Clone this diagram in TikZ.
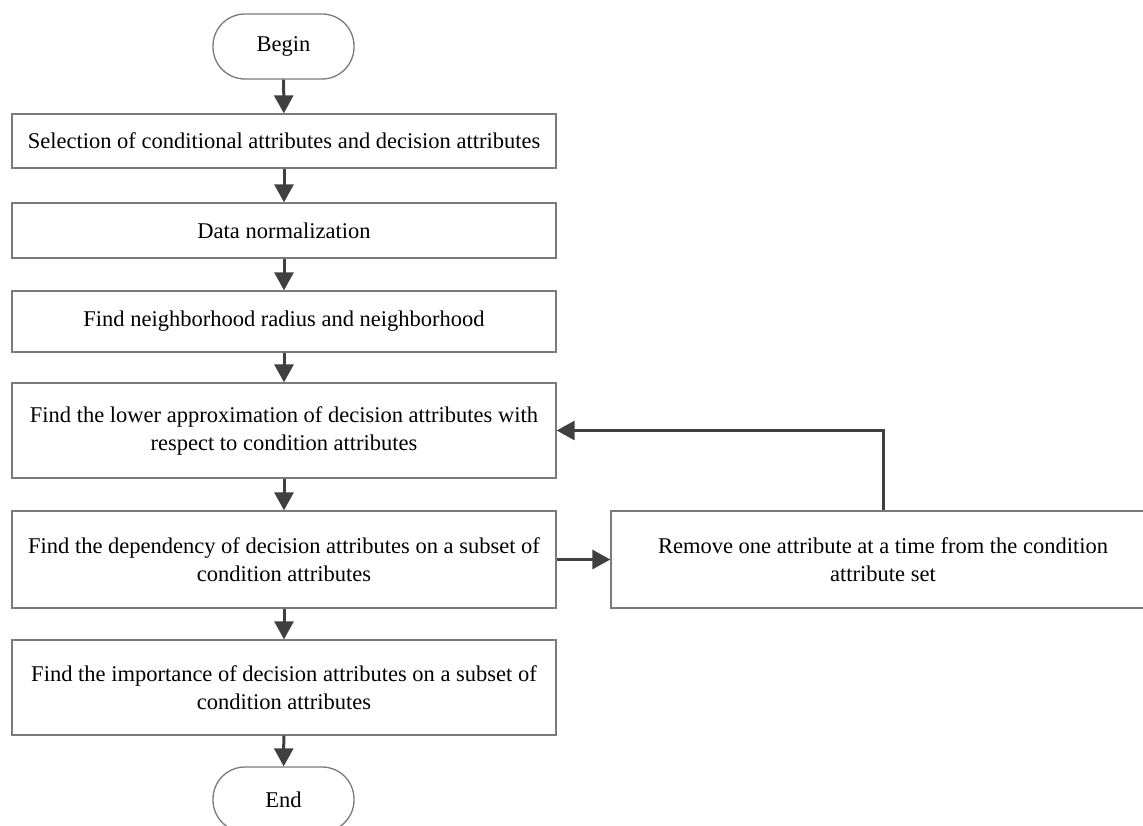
\documentclass[tikz,border=0pt]{standalone}
\usepackage{fontspec}
\setmainfont{Liberation Serif}
\usetikzlibrary{arrows.meta}
\definecolor{arrowc}{HTML}{404040}
\definecolor{boxc}{HTML}{7A7A7A}
\tikzset{
  procbox/.style={draw=boxc, line width=1.3pt, rectangle, minimum width=544pt, align=center, inner sep=0pt, font=\fontsize{22.5}{28}\selectfont},
  termbox/.style={draw=boxc, line width=1.3pt, rectangle, rounded corners=32pt, minimum width=141pt, minimum height=65pt, inner sep=0pt, font=\fontsize{22.5}{28}\selectfont},
  flow/.style={draw=arrowc, line width=3pt, -{Triangle[length=18pt,width=19pt]}}
}
\begin{document}
\begin{tikzpicture}[x=1pt,y=-1pt]
\useasboundingbox (0,0) rectangle (1143,826);
\fill[white] (0,0) rectangle (1143,826);
\node[termbox] (begin) at (283.5,46.5) {Begin};
\node[procbox, minimum height=54pt] (b1) at (284,141) {Selection of conditional attributes and decision attributes};
\node[procbox, minimum height=55pt] (b2) at (284,230.5) {Data normalization};
\node[procbox, minimum height=61pt] (b3) at (284,321.5) {Find neighborhood radius and neighborhood};
\node[procbox, minimum height=95pt] (b4) at (284,430.5) {Find the lower approximation of decision attributes with\\respect to condition attributes};
\node[procbox, minimum height=97pt] (b5) at (284,559.5) {Find the dependency of decision attributes on a subset of\\condition attributes};
\node[procbox, minimum height=95pt] (b6) at (284,687.5) {Find the importance of decision attributes on a subset of\\condition attributes};
\node[termbox] (end) at (283.5,799.5) {End};
\node[procbox, minimum height=97pt] (r) at (883,559.5) {Remove one attribute at a time from the condition\\attribute set};
\draw[flow] (begin) -- (b1);
\draw[flow] (b1) -- (b2);
\draw[flow] (b2) -- (b3);
\draw[flow] (b3) -- (b4);
\draw[flow] (b4) -- (b5);
\draw[flow] (b5) -- (b6);
\draw[flow] (b6) -- (end);
\draw[flow] (b5) -- (r);
\draw[flow] (r.north) |- (b4.east);
\end{tikzpicture}
\end{document}
